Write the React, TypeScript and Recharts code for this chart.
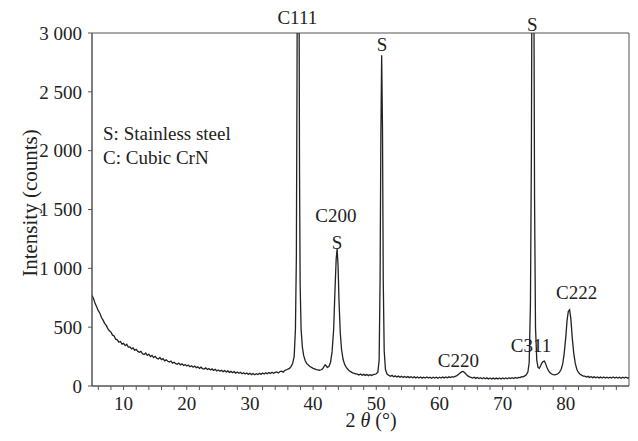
import { LineChart, Line, XAxis, YAxis, ReferenceArea, ReferenceDot } from "recharts";

// XRD scan: [2θ (deg), intensity (counts)]
const scan: [number, number][] = [
  [5.0, 770], [5.25, 742], [5.5, 700], [5.75, 672], [6.0, 640], [6.25, 618], [6.5, 582], [6.75, 560],
  [7.0, 532], [7.25, 515], [7.5, 488], [7.75, 470], [8.0, 458], [8.25, 432], [8.5, 425], [8.75, 398],
  [9.0, 392], [9.25, 372], [9.5, 378], [9.75, 356], [10.0, 362], [10.25, 343], [10.5, 354], [10.75, 331],
  [11.0, 332], [11.25, 316], [11.5, 324], [11.75, 303], [12.0, 312], [12.25, 294], [12.5, 286], [12.75, 294],
  [13.0, 274], [13.25, 268], [13.5, 280], [13.75, 260], [14.0, 270], [14.25, 250], [14.5, 260], [14.75, 242],
  [15.0, 252], [15.25, 236], [15.5, 230], [15.75, 242], [16.0, 224], [16.25, 232], [16.5, 214], [16.75, 222],
  [17.0, 210], [17.25, 203], [17.5, 212], [17.75, 194], [18.0, 202], [18.25, 190], [18.5, 184], [18.75, 195],
  [19.0, 180], [19.25, 188], [19.5, 174], [19.75, 182], [20.0, 170], [20.25, 178], [20.5, 164], [20.75, 172],
  [21.0, 160], [21.25, 170], [21.5, 156], [21.75, 163], [22.0, 150], [22.25, 160], [22.5, 148], [22.75, 144],
  [23.0, 154], [23.25, 140], [23.5, 148], [23.75, 136], [24.0, 145], [24.25, 133], [24.5, 142], [24.75, 128],
  [25.0, 136], [25.25, 126], [25.5, 134], [25.75, 122], [26.0, 131], [26.25, 119], [26.5, 128], [26.75, 116],
  [27.0, 124], [27.25, 113], [27.5, 122], [27.75, 110], [28.0, 119], [28.25, 108], [28.5, 116], [28.75, 104],
  [29.0, 113], [29.25, 102], [29.5, 110], [29.75, 99], [30.0, 108], [30.25, 97], [30.5, 106], [30.75, 96],
  [31.0, 104], [31.25, 98], [31.5, 108], [31.75, 99], [32.0, 110], [32.25, 102], [32.5, 112], [32.75, 104],
  [33.0, 115], [33.25, 107], [33.5, 117], [33.75, 108], [34.0, 116], [34.25, 120], [34.5, 111], [34.75, 123],
  [35.0, 126], [35.25, 118], [35.5, 132], [35.75, 136], [36.0, 144], [36.25, 150], [36.5, 165], [36.75, 190],
  [37.0, 250], [37.2, 480], [37.35, 1100], [37.45, 2600], [37.55, 4600], [37.65, 5200], [37.75, 3800], [37.85, 1800],
  [37.95, 850], [38.1, 480], [38.3, 330], [38.5, 260], [38.75, 215], [39.0, 190], [39.25, 178], [39.5, 165],
  [39.75, 158], [40.0, 150], [40.25, 146], [40.5, 140], [40.75, 138], [41.0, 134], [41.25, 138], [41.5, 145],
  [41.75, 168], [41.9, 180], [42.05, 172], [42.25, 158], [42.5, 165], [42.75, 200], [43.0, 290], [43.25, 480],
  [43.45, 800], [43.65, 1080], [43.8, 1165], [43.95, 1020], [44.1, 720], [44.3, 450], [44.5, 310], [44.75, 225],
  [45.0, 182], [45.25, 158], [45.5, 142], [45.75, 128], [46.0, 120], [46.25, 112], [46.5, 108], [46.75, 104],
  [47.0, 100], [47.25, 94], [47.5, 102], [47.75, 92], [48.0, 99], [48.25, 90], [48.5, 98], [48.75, 88],
  [49.0, 96], [49.25, 90], [49.5, 97], [49.75, 98], [50.0, 104], [50.25, 118], [50.45, 220], [50.6, 900],
  [50.72, 2100], [50.85, 2810], [50.98, 2200], [51.1, 900], [51.25, 300], [51.45, 140], [51.7, 102], [52.0, 90],
  [52.25, 82], [52.5, 90], [52.75, 78], [53.0, 86], [53.25, 76], [53.5, 84], [53.75, 75], [54.0, 83],
  [54.25, 73], [54.5, 81], [54.75, 72], [55.0, 80], [55.25, 71], [55.5, 79], [55.75, 70], [56.0, 78],
  [56.25, 69], [56.5, 77], [56.75, 68], [57.0, 76], [57.25, 67], [57.5, 75], [57.75, 68], [58.0, 76],
  [58.25, 67], [58.5, 74], [58.75, 66], [59.0, 75], [59.25, 67], [59.5, 74], [59.75, 66], [60.0, 75],
  [60.25, 68], [60.5, 76], [60.75, 69], [61.0, 77], [61.25, 70], [61.5, 78], [61.75, 72], [62.0, 80],
  [62.25, 76], [62.5, 82], [62.75, 88], [63.0, 98], [63.25, 110], [63.5, 120], [63.75, 124], [64.0, 112],
  [64.25, 98], [64.5, 86], [64.75, 78], [65.0, 74], [65.25, 68], [65.5, 75], [65.75, 65], [66.0, 73],
  [66.25, 64], [66.5, 71], [66.75, 62], [67.0, 70], [67.25, 61], [67.5, 69], [67.75, 60], [68.0, 68],
  [68.25, 60], [68.5, 67], [68.75, 59], [69.0, 67], [69.25, 60], [69.5, 68], [69.75, 60], [70.0, 68],
  [70.25, 61], [70.5, 69], [70.75, 62], [71.0, 70], [71.25, 63], [71.5, 71], [71.75, 64], [72.0, 72],
  [72.25, 66], [72.5, 73], [72.75, 72], [73.0, 79], [73.25, 78], [73.5, 86], [73.75, 96], [74.0, 120],
  [74.2, 200], [74.4, 700], [74.55, 2000], [74.68, 4200], [74.8, 5000], [74.92, 3800], [75.05, 1600], [75.2, 500],
  [75.4, 220], [75.6, 158], [75.8, 150], [76.0, 170], [76.2, 195], [76.4, 208], [76.6, 212], [76.8, 190],
  [77.0, 160], [77.25, 130], [77.5, 112], [77.75, 102], [78.0, 96], [78.25, 94], [78.5, 98], [78.75, 104],
  [79.0, 118], [79.25, 140], [79.5, 185], [79.75, 280], [80.0, 420], [80.2, 560], [80.4, 635], [80.6, 648],
  [80.8, 570], [81.0, 420], [81.25, 280], [81.5, 190], [81.75, 140], [82.0, 115], [82.25, 100], [82.5, 92],
  [82.75, 84], [83.0, 84], [83.25, 76], [83.5, 82], [83.75, 73], [84.0, 79], [84.25, 71], [84.5, 78],
  [84.75, 70], [85.0, 77], [85.25, 69], [85.5, 76], [85.75, 68], [86.0, 76], [86.25, 68], [86.5, 75],
  [86.75, 67], [87.0, 75], [87.25, 68], [87.5, 76], [87.75, 68], [88.0, 75], [88.25, 67], [88.5, 74],
  [88.75, 66], [89.0, 74], [89.25, 67], [89.5, 75], [89.75, 68], [90.0, 72],
];

const xTicks = [6, 8, 10, 12, 14, 16, 18, 20, 22, 24, 26, 28, 30, 32, 34, 36, 38, 40, 42, 44, 46, 48, 50,
  52, 54, 56, 58, 60, 62, 64, 66, 68, 70, 72, 74, 76, 78, 80, 82, 84, 86, 88];
const yTicks = [0, 500, 1000, 1500, 2000, 2500, 3000];

// peak labels, placed in data units (2θ, counts)
const peakLabels = [
  { text: "C111", t: 37.5, c: 3135 },
  { text: "S", t: 50.9, c: 2906 },
  { text: "S", t: 74.7, c: 3076 },
  { text: "C200", t: 43.6, c: 1453 },
  { text: "S", t: 43.8, c: 1223 },
  { text: "C220", t: 63.0, c: 221 },
  { text: "C311", t: 74.5, c: 348 },
  { text: "C222", t: 81.7, c: 799 },
];
const phaseKey = [
  { text: "S: Stainless steel", c: 2150 },
  { text: "C: Cubic CrN", c: 1946 },
];

const data = scan.map(([t, c]) => ({ t, c }));
const FONT = "Liberation Serif";
const INK = "#222";
const AXIS = "#555";
const txt = { fontFamily: FONT, fontSize: 19 };

const fmtCounts = (v: number) =>
  v >= 1000 ? `${Math.floor(v / 1000)} ${String(v % 1000).padStart(3, "0")}` : String(v);

const XTick = (props: any) => {
  const { x, y, payload } = props;
  if (payload.value % 10 !== 0) return <g />;
  return (
    <text x={x} y={y} dy={14} textAnchor="middle" fill={INK} style={txt}>
      {payload.value}
    </text>
  );
};

export default function App() {
  return (
    <div
      style={{ position: "absolute", left: 0, top: 0, width: 638, height: 441, background: "#fff", fontFamily: FONT }}
    >
      <LineChart width={638} height={441} data={data} margin={{ top: 33, right: 9, bottom: 0, left: 0 }}>
        <XAxis
          dataKey="t"
          type="number"
          domain={[5, 90]}
          ticks={xTicks}
          interval={0}
          height={55}
          tick={<XTick />}
          tickSize={4}
          tickMargin={6}
          stroke={AXIS}
          allowDataOverflow
        />
        <YAxis
          type="number"
          domain={[0, 3000]}
          ticks={yTicks}
          width={92}
          tickSize={4}
          tickMargin={6}
          tickFormatter={fmtCounts}
          tick={{ fill: INK, style: txt }}
          stroke={AXIS}
          allowDataOverflow
        />
        <ReferenceArea x1={5} x2={90} y1={0} y2={3000} fill="none" stroke={AXIS} strokeWidth={1} />
        <Line
          dataKey="c"
          type="linear"
          stroke={INK}
          strokeWidth={1.3}
          dot={false}
          isAnimationActive={false}
        />
        {peakLabels.map((p, i) => (
          <ReferenceDot
            key={"p" + i}
            x={p.t}
            y={p.c}
            r={0}
            fill="none"
            stroke="none"
            ifOverflow="visible"
            label={{ value: p.text, position: "center", fill: INK, style: txt }}
          />
        ))}
        {phaseKey.map((p, i) => (
          <ReferenceDot
            key={"k" + i}
            x={6.75}
            y={p.c}
            r={0}
            fill="none"
            stroke="none"
            ifOverflow="visible"
            label={{ value: p.text, position: "right", offset: 0, fill: INK, style: txt }}
          />
        ))}
      </LineChart>
      <svg width={638} height={441} style={{ position: "absolute", left: 0, top: 0, pointerEvents: "none" }}>
        <text
          transform="translate(37,203) rotate(-90)"
          textAnchor="middle"
          fill={INK}
          style={{ fontFamily: FONT, fontSize: 21 }}
        >
          Intensity (counts)
        </text>
        <text x={371} y={427} textAnchor="middle" fill={INK} style={{ fontFamily: FONT, fontSize: 20 }}>
          2 <tspan fontStyle="italic">θ</tspan> (°)
        </text>
      </svg>
    </div>
  );
}
